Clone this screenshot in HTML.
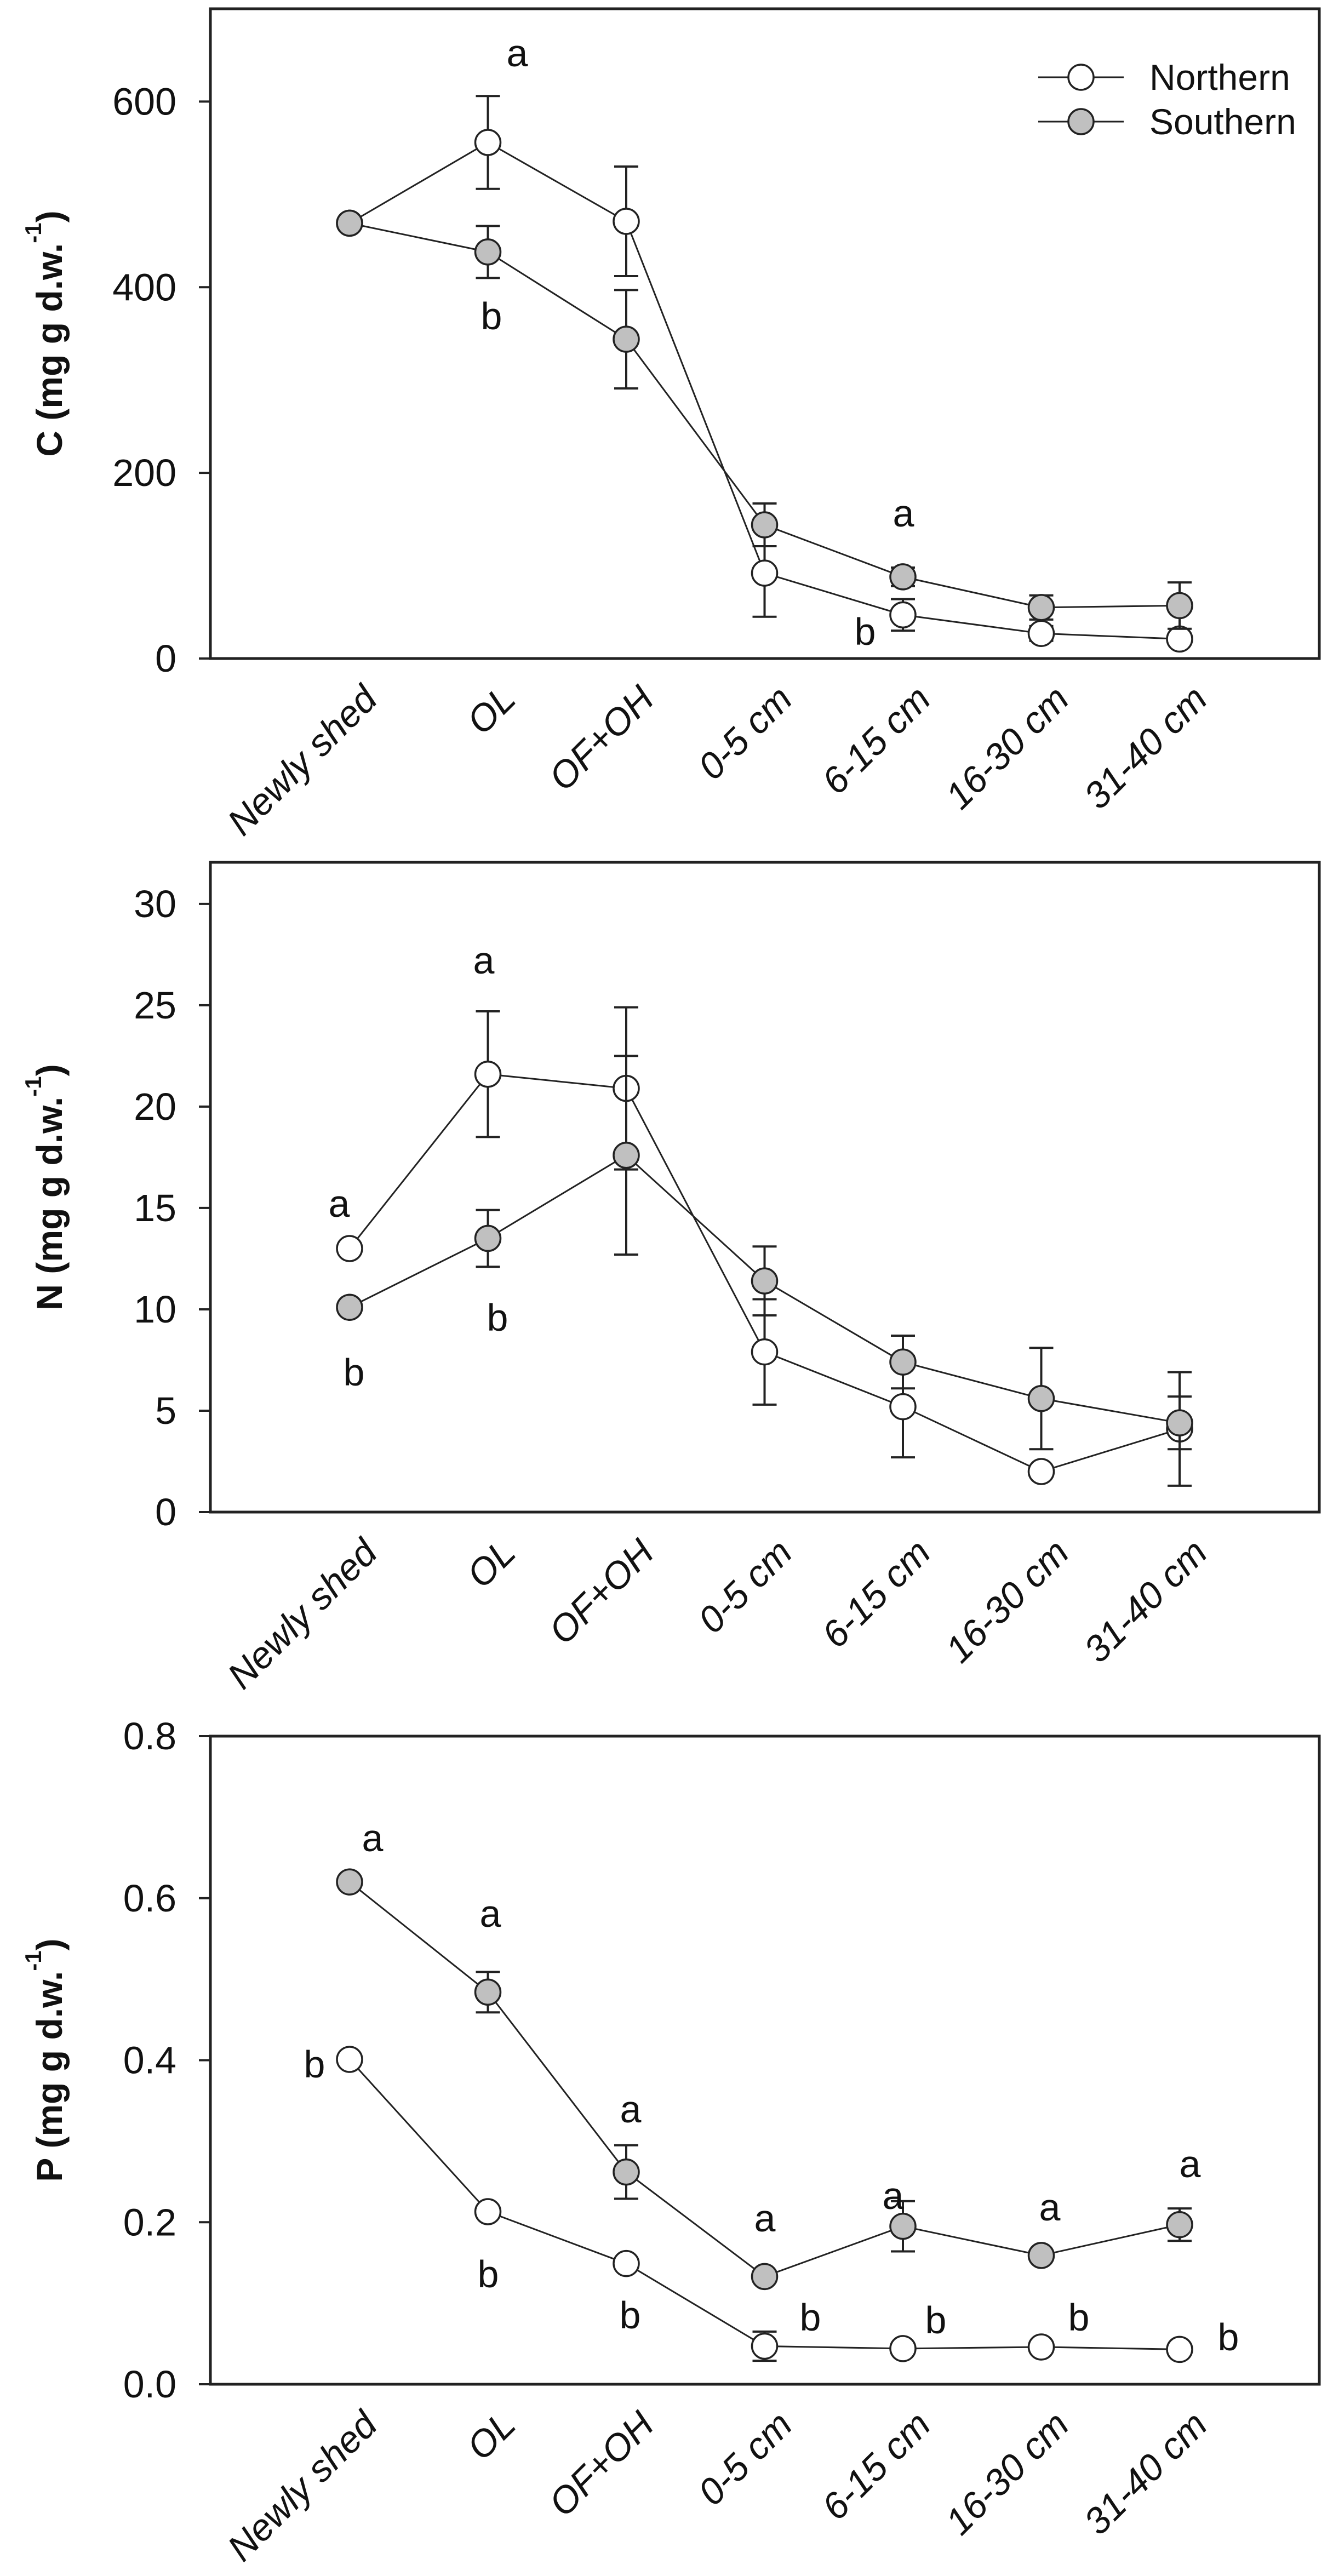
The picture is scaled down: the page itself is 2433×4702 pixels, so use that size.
<!DOCTYPE html>
<html><head><meta charset="utf-8">
<style>
html,body{margin:0;padding:0;background:#fff;}
svg{display:block;}
text{font-family:"Liberation Sans",sans-serif;fill:#111;}
</style></head>
<body>
<svg id="fig" width="2433" height="4702" viewBox="0 0 2433 4702" xmlns="http://www.w3.org/2000/svg"></svg>
<script>
const categories = ["Newly shed","OL","OF+OH","0-5 cm","6-15 cm","16-30 cm","31-40 cm"];
const cNorth = [469,556,471,92,47,27,21];
const cNorthErr = [0,50,59,47,17,8,5];
const cSouth = [469,438,344,144,88,55,57];
const cSouthErr = [0,28,53,23,10,13,25];
const cTicks = [0,200,400,600];
const nNorth = [13.0,21.6,20.9,7.9,5.2,2.0,4.1];
const nNorthErr = [0,3.1,4.0,2.6,2.5,0,2.8];
const nSouth = [10.1,13.5,17.6,11.4,7.4,5.6,4.4];
const nSouthErr = [0,1.4,4.9,1.7,1.3,2.5,1.3];
const nTicks = [0,5,10,15,20,25,30];
const pNorth = [0.401,0.213,0.149,0.047,0.044,0.046,0.043];
const pNorthErr = [0,0,0,0.018,0,0,0];
const pSouth = [0.620,0.484,0.262,0.133,0.195,0.159,0.197];
const pSouthErr = [0,0.025,0.033,0,0.031,0,0.02];
const pTicks = [0,0.2,0.4,0.6,0.8];
const cLetters = [["a",1,-1],["b",1,1],["a",4,-1],["b",4,1]];

const NS="http://www.w3.org/2000/svg";
const svg=document.getElementById('fig');
function mk(tag,attrs,parent){const e=document.createElementNS(NS,tag);for(const k in attrs)e.setAttribute(k,attrs[k]);(parent||svg).appendChild(e);return e;}

const L=384,R=2408,X0=638,DX=252.5;
function xOf(i){return X0+i*DX;}

function panel(cfg){
  const g=mk('g',{});
  
  
  const y=v=>cfg.bottom-(v-cfg.min)/(cfg.max-cfg.min)*(cfg.bottom-cfg.top);
  const fr=mk('rect',{x:L,y:cfg.top,width:R-L,height:cfg.bottom-cfg.top,fill:'none',stroke:'#222','stroke-width':5},g);
  
  
  cfg.ticks.forEach(t=>{
    const ty=y(t);
    const tk=mk('line',{x1:L-21,x2:L,y1:ty,y2:ty,stroke:'#222','stroke-width':4},g);
    
    
    const tl=mk('text',{x:L-62,y:ty,'text-anchor':'end','dominant-baseline':'central','font-size':70},g);
    
    
    tl.textContent=cfg.fmt(t);
  });
  const yt=mk('text',{transform:`translate(90,${(cfg.top+cfg.bottom)/2}) rotate(-90)`,'text-anchor':'middle','dominant-baseline':'central','font-size':66,'font-weight':'bold'},g);
  
  
  yt.innerHTML=cfg.letter+' (mg g d.w.<tspan dy="-30" font-size="42">-1</tspan><tspan dy="30">)</tspan>';
  categories.forEach((c,i)=>{
    const t=mk('text',{transform:`translate(${xOf(i)+38},${cfg.bottom+62}) rotate(-45)`,'text-anchor':'end','dominant-baseline':'central','font-size':68,'font-style':'italic'},g);
    
    
    t.textContent=c;
  });
  function series(vals,errs,fill,nm){
    const pts=vals.map((v,i)=>xOf(i)+','+y(v)).join(' ');
    const pl=mk('polyline',{points:pts,fill:'none',stroke:'#222','stroke-width':3},g);
    
    
    vals.forEach((v,i)=>{
      if(errs[i]>0){
        const x=xOf(i),y1=y(v+errs[i]),y2=y(v-errs[i]);
        const e=mk('path',{d:`M${x},${y1}V${y2}M${x-22},${y1}H${x+22}M${x-22},${y2}H${x+22}`,stroke:'#222','stroke-width':4,fill:'none'},g);
        
        
      }
    });
    vals.forEach((v,i)=>{
      const c=mk('circle',{cx:xOf(i),cy:y(v),r:23,fill:fill,stroke:'#222','stroke-width':3.5},g);
      
      
    });
  }
  series(cfg.north,cfg.northErr,'#fff','northern');
  series(cfg.south,cfg.southErr,'#c0c0c0','southern');
  cfg.letters.forEach(l=>{
    const t=mk('text',{x:l[0],y:l[1],'text-anchor':'middle','dominant-baseline':'central','font-size':70},g);
    
    
    t.textContent=l[2];
  });
  return y;
}

panel({name:'carbon-panel',top:16,bottom:1202,min:0,max:700,ticks:cTicks,fmt:t=>String(t),letter:'C',
  north:cNorth,northErr:cNorthErr,south:cSouth,southErr:cSouthErr,
  letters:[[944,97,'a'],[897,577,'b'],[1649,937,'a'],[1579,1153,'b']]});
panel({name:'nitrogen-panel',top:1574,bottom:2760,min:0,max:32.05,ticks:nTicks,fmt:t=>String(t),letter:'N',
  north:nNorth,northErr:nNorthErr,south:nSouth,southErr:nSouthErr,
  letters:[[619,2197,'a'],[646,2505,'b'],[883,1753,'a'],[908,2405,'b']]});
panel({name:'phosphorus-panel',top:3169,bottom:4352,min:0,max:0.8,ticks:pTicks,fmt:t=>t.toFixed(1),letter:'P',
  north:pNorth,northErr:pNorthErr,south:pSouth,southErr:pSouthErr,
  letters:[[680,3355,'a'],[895,3493,'a'],[1151,3850,'a'],[1396,4049,'a'],[1630,4008,'a'],[1916,4029,'a'],[2172,3950,'a'],
           [574,3768,'b'],[891,4151,'b'],[1150,4226,'b'],[1479,4230,'b'],[1708,4235,'b'],[1969,4230,'b'],[2242,4266,'b']]});

// legend
const lg=mk('g',{});


[['Northern','#fff',141],['Southern','#c0c0c0',222]].forEach(d=>{
  const ln=mk('line',{x1:1895,x2:2051,y1:d[2],y2:d[2],stroke:'#222','stroke-width':3},lg);
  
  
  const c=mk('circle',{cx:1973,cy:d[2],r:23,fill:d[1],stroke:'#222','stroke-width':3.5},lg);
  
  
  const t=mk('text',{x:2098,y:d[2],'dominant-baseline':'central','font-size':66},lg);
  
  
  t.textContent=d[0];
});
</script>
</body></html>
